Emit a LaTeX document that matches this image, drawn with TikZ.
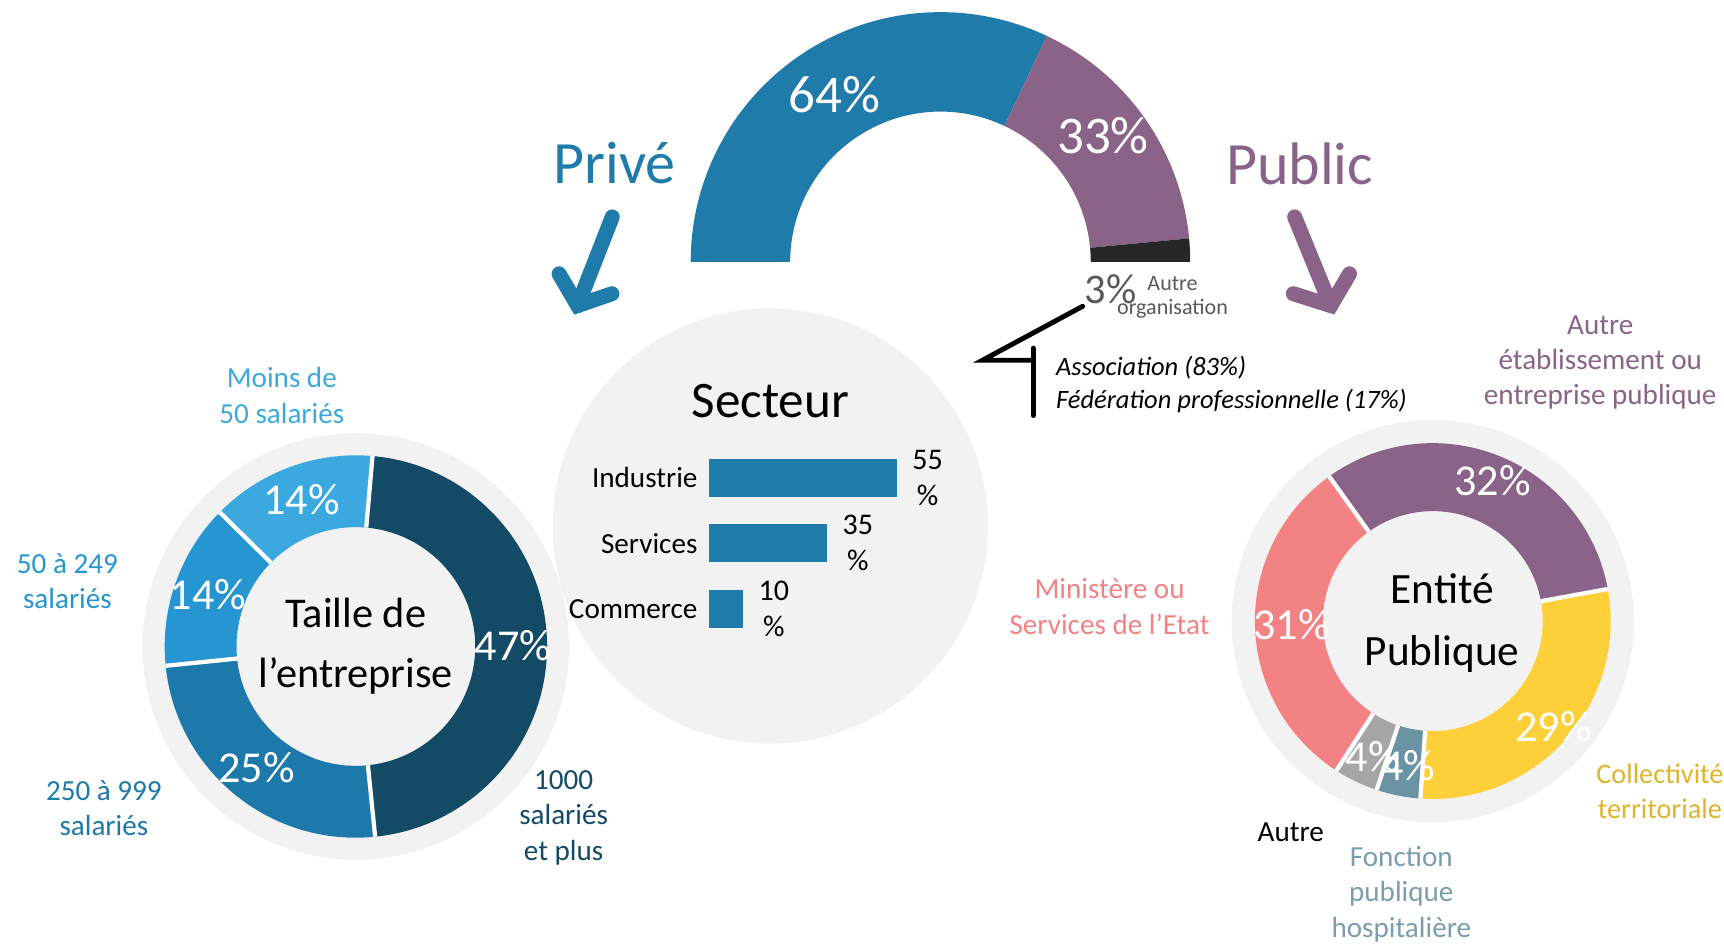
\documentclass[tikz,border=0pt]{standalone}
\usepackage{fontspec}
\setmainfont{Carlito}
\usetikzlibrary{positioning}

\definecolor{prive}{HTML}{1F7BAA}
\definecolor{publ}{HTML}{8A6389}
\definecolor{noirseg}{HTML}{262626}
\definecolor{fond}{HTML}{F2F2F2}
\definecolor{taille1}{HTML}{3BA9E0}
\definecolor{taille2}{HTML}{2596D2}
\definecolor{taille3}{HTML}{1D79AA}
\definecolor{taille4}{HTML}{134A66}
\definecolor{entjaune}{HTML}{FDD03A}
\definecolor{entteal}{HTML}{6A93A3}
\definecolor{entgris}{HTML}{A6A6A6}
\definecolor{entrose}{HTML}{F28283}
\definecolor{coltxt}{HTML}{DDB42C}
\definecolor{hosptxt}{HTML}{7B9DAC}
\definecolor{grisorg}{HTML}{595959}

\begin{document}
\begin{tikzpicture}[x=0.022cm,y=0.022cm,
    pct/.style={text=white,inner sep=1pt,font=\fontsize{25}{25}\selectfont},
    lbl/.style={align=center,font=\fontsize{16.5}{20}\selectfont},
    titre/.style={align=center,font=\fontsize{24}{34}\selectfont},
    sepline/.style={white,line width=2.4pt},
    secbar/.style={fill=prive,inner sep=0pt,minimum height=21.9pt,anchor=west},
    barval/.style={align=center,inner sep=2pt,font=\fontsize{17}{20.5}\selectfont},
    barlbl/.style={inner sep=2pt,font=\fontsize{16.5}{16.5}\selectfont},
    chevron/.style={line width=8.5pt,line cap=round,line join=miter},
    annot/.style={line width=2.8pt,line cap=round}]
  \useasboundingbox (0,0) rectangle (1560,854);
  \def\donutseg#1#2#3#4#5#6{\fill[#6,shift={(#1)}] (#4:#2) arc[start angle=#4,end angle=#5,radius=#2] -- (#5:#3) arc[start angle=#5,end angle=#4,radius=#3] -- cycle;}
  \def\cutline#1#2#3#4{\draw[sepline,shift={(#1)}] (#4:#2) -- (#4:#3);}

  % fonds gris
  \fill[fond] (322,269) circle[radius=193];
  \fill[fond] (697,378) circle[radius=197];
  \fill[fond] (1296.5,292) circle[radius=182];

  % demi-anneau prive / public
  \donutseg{851,617}{226}{136}{180}{64.8}{prive}
  \donutseg{851,617}{226}{136}{64.8}{5.4}{publ}
  \donutseg{851,617}{226}{136}{5.4}{0}{noirseg}
  \node[pct,font=\fontsize{30}{30}\selectfont] (p64) at (755,768) {64\%};
  \node[pct,font=\fontsize{30}{30}\selectfont] (p33) at (998,731) {33\%};
  \node[inner sep=1pt,text=grisorg,font=\fontsize{24}{24}\selectfont] (p3) at (1005,592) {3\%};
  \node[align=center,text=grisorg,font=\fontsize{12.5}{13.8}\selectfont] (autreorg) at (1061,585) {Autre\\organisation};

  \node[text=prive,font=\fontsize{34}{34}\selectfont] (tprive) at (556,706) {Privé};
  \node[text=publ,font=\fontsize{34}{34}\selectfont] (tpublic) at (1176,706) {Public};
  \coordinate (pv0) at (554,657.7);
  \coordinate (pv) at (522.7,577.5);
  \coordinate (pv1) at (505.9,606.2);
  \coordinate (pv2) at (553.7,588.2);
  \draw[chevron,prive] (pv0) -- (pv);
  \draw[chevron,prive] (pv1) -- (pv) -- (pv2);
  \coordinate (pb0) at (1171.5,657.7);
  \coordinate (pb) at (1204.2,577.5);
  \coordinate (pb1) at (1170.3,588.2);
  \coordinate (pb2) at (1221.1,606.2);
  \draw[chevron,publ] (pb0) -- (pb);
  \draw[chevron,publ] (pb1) -- (pb) -- (pb2);

  % autre organisation
  \coordinate (coude) at (889,528);
  \coordinate (barhaut) at (935,539);
  \coordinate (barbas) at (935,478);
  \draw[annot] (p3.south west) -- (coude) -- (coude -| barhaut);
  \draw[annot] (barhaut) -- (barbas);
  \node[anchor=west,align=left,font=\itshape\fontsize{15}{18.8}\selectfont] (assoc) at (950,506) {Association (83\%)\\Fédération professionnelle (17\%)};

  % secteur
  \node[font=\fontsize{29}{29}\selectfont] (secteur) at (697,491) {Secteur};
  \node[secbar,minimum width=106.4pt] (bind) at (641,421.5) {};
  \node[secbar,minimum width=67pt] (bser) at (641,362.5) {};
  \node[secbar,minimum width=19.4pt] (bcom) at (641,303) {};
  \node[barlbl,left=4pt of bind] (lind) {Industrie};
  \node[barlbl,left=4pt of bser] (lser) {Services};
  \node[barlbl,left=4pt of bcom] (lcom) {Commerce};
  \node[barval,right=6.5pt of bind] (vind) {55\\\%};
  \node[barval,right=6.5pt of bser] (vser) {35\\\%};
  \node[barval,right=6.5pt of bcom] (vcom) {10\\\%};

  % taille de l'entreprise
  \donutseg{322,269}{173}{108}{85}{-84.2}{taille4}
  \donutseg{322,269}{173}{108}{-84.2}{-174.2}{taille3}
  \donutseg{322,269}{173}{108}{-174.2}{-224.6}{taille2}
  \donutseg{322,269}{173}{108}{-224.6}{-275}{taille1}
  \cutline{322,269}{108}{173}{85}
  \cutline{322,269}{108}{173}{-84.2}
  \cutline{322,269}{108}{173}{-174.2}
  \cutline{322,269}{108}{173}{-224.6}
  \begin{scope}[shift={(322,269)}]
    \node[pct] (t47) at (0.4:142) {47\%};
    \node[pct] (t25) at (-129.2:142) {25\%};
    \node[pct] (t14a) at (-199.4:142) {14\%};
    \node[pct] (t14b) at (-249.8:142) {14\%};
  \end{scope}
  \node[titre] (taille) at (322,269) {Taille de\\l’entreprise};
  \node[lbl,text=taille1] (moins50) at (255,496) {Moins de\\50 salariés};
  \node[lbl,text=taille2] (s50) at (61,328) {50 à 249\\salariés};
  \node[lbl,text=taille3] (s250) at (94,123) {250 à 999\\salariés};
  \node[lbl,text=taille4] (s1000) at (510,114) {1000\\salariés\\et plus};

  % entite publique
  \donutseg{1296.5,292}{161}{99.5}{125.6}{10.4}{publ}
  \donutseg{1296.5,292}{161}{99.5}{10.4}{-94}{entjaune}
  \donutseg{1296.5,292}{161}{99.5}{-94}{-108.4}{entteal}
  \donutseg{1296.5,292}{161}{99.5}{-108.4}{-122.8}{entgris}
  \donutseg{1296.5,292}{161}{99.5}{-122.8}{-234.4}{entrose}
  \cutline{1296.5,292}{99.5}{161}{125.6}
  \cutline{1296.5,292}{99.5}{161}{10.4}
  \cutline{1296.5,292}{99.5}{161}{-94}
  \cutline{1296.5,292}{99.5}{161}{-108.4}
  \cutline{1296.5,292}{99.5}{161}{-122.8}
  \begin{scope}[shift={(1296.5,292)}]
    \node[pct] (e32) at (67:138) {32\%};
    \node[pct] (e29) at (-41:145) {29\%};
    \node[pct] (e31) at (-178.6:128) {31\%};
    \node[pct] (e4a) at (-114:134) {4\%};
    \node[pct] (e4b) at (-99.5:133) {4\%};
  \end{scope}
  \node[titre,font=\fontsize{24.5}{35}\selectfont] (entite) at (1305,290) {Entité\\Publique};
  \node[lbl,text=publ] (autreetab) at (1448,526) {Autre\\établissement ou\\entreprise publique};
  \node[lbl,text=entrose] (minist) at (1004,305) {Ministère ou\\Services de l’Etat};
  \node[lbl,text=coltxt,font=\fontsize{16}{20}\selectfont] (collect) at (1502,138) {Collectivité\\territoriale};
  \node[lbl] (autre) at (1168,101) {Autre};
  \node[lbl,text=hosptxt] (hosp) at (1268,45) {Fonction\\publique\\hospitalière};
\end{tikzpicture}
\end{document}
